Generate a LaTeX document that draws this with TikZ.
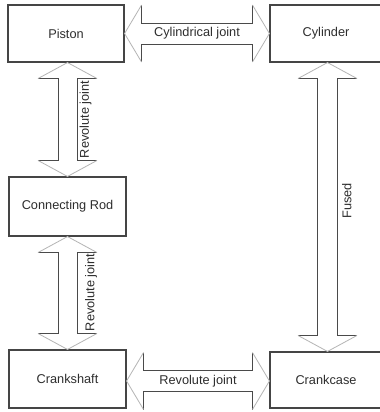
\documentclass[tikz,border=0pt]{standalone}
\usepackage{fontspec}
\setmainfont{Liberation Sans}
\usetikzlibrary{calc}
\definecolor{boxline}{HTML}{454545}
\definecolor{shaftline}{HTML}{4A4A4A}
\definecolor{headline}{HTML}{B5B5B5}
\definecolor{txt}{HTML}{2E2E2E}
\def\arrHL{16bp}
\def\arrHH{28.5bp}
\def\arrSH{10.5bp}
\newcommand{\hdblarrow}[2]{%
  \draw[shaftstyle] let \p1=(#1), \p2=(#2) in
    (\x1+\arrHL,\y1+\arrHH) -- (\x1+\arrHL,\y1+\arrSH) -- (\x2-\arrHL,\y1+\arrSH) -- (\x2-\arrHL,\y1+\arrHH)
    (\x1+\arrHL,\y1-\arrHH) -- (\x1+\arrHL,\y1-\arrSH) -- (\x2-\arrHL,\y1-\arrSH) -- (\x2-\arrHL,\y1-\arrHH);
  \draw[headstyle] let \p1=(#1), \p2=(#2) in
    (\x1+\arrHL,\y1+\arrHH) -- (\x1,\y1) -- (\x1+\arrHL,\y1-\arrHH)
    (\x2-\arrHL,\y1+\arrHH) -- (\x2,\y1) -- (\x2-\arrHL,\y1-\arrHH);}
\newcommand{\vdblarrow}[2]{%
  \draw[shaftstyle] let \p1=(#1), \p2=(#2) in
    (\x1-\arrHH,\y1-\arrHL) -- (\x1-\arrSH,\y1-\arrHL) -- (\x1-\arrSH,\y2+\arrHL) -- (\x1-\arrHH,\y2+\arrHL)
    (\x1+\arrHH,\y1-\arrHL) -- (\x1+\arrSH,\y1-\arrHL) -- (\x1+\arrSH,\y2+\arrHL) -- (\x1+\arrHH,\y2+\arrHL);
  \draw[headstyle] let \p1=(#1), \p2=(#2) in
    (\x1-\arrHH,\y1-\arrHL) -- (\x1,\y1) -- (\x1+\arrHH,\y1-\arrHL)
    (\x1-\arrHH,\y2+\arrHL) -- (\x1,\y2) -- (\x1+\arrHH,\y2+\arrHL);}
\begin{document}
\begin{tikzpicture}[x=1bp,y=-1bp,
  box/.style={draw=boxline, line width=1.1bp, inner sep=0pt, text=txt,
    font=\fontsize{12.8}{15}\selectfont},
  lbl/.style={inner sep=0pt, text=txt, font=\fontsize{12.8}{15}\selectfont},
  vlbl/.style={lbl, rotate=90, anchor=north},
  shaftstyle/.style={draw=shaftline, line width=0.9bp},
  headstyle/.style={draw=headline, line width=0.8bp}]
\useasboundingbox (0,0) rectangle (380,412);
\fill[white] (0,0) rectangle (380,412);
% boxes
\node[box, minimum width=116bp, minimum height=57bp] (piston) at (66,33.5) {Piston};
\node[box, minimum width=112bp, minimum height=57bp] (cylinder) at (326,33.5) {Cylinder};
\node[box, minimum width=117bp, minimum height=59bp] (connrod) at (67.5,206.5) {Connecting Rod};
\node[box, minimum width=117bp, minimum height=58bp] (crankshaft) at (67.5,379) {Crankshaft};
\node[box, minimum width=112bp, minimum height=56bp] (crankcase) at (326,380) {Crankcase};
% connector end points
\coordinate (t1) at (piston.east);
\coordinate (t2) at (t1 -| cylinder.west);
\coordinate (b1) at ([yshift=-2bp]crankshaft.east);
\coordinate (b2) at (b1 -| crankcase.west);
\coordinate (l1) at (piston.south -| connrod.north);
\coordinate (l2) at (connrod.north);
\coordinate (l3) at (connrod.south);
\coordinate (l4) at (crankshaft.north);
\coordinate (r1) at ([xshift=1.5bp]cylinder.south);
\coordinate (r2) at (r1 |- crankcase.north);
% arrows
{\def\arrHL{17bp}\hdblarrow{t1}{t2}}
{\def\arrHL{17bp}\hdblarrow{b1}{b2}}
{\def\arrHH{29.5bp}\def\arrSH{9.5bp}\vdblarrow{l1}{l2}}
{\def\arrHH{29.5bp}\def\arrSH{9.5bp}\vdblarrow{l3}{l4}}
{\def\arrHH{29.5bp}\def\arrSH{10bp}\vdblarrow{r1}{r2}}
% labels
\node[lbl] (cyljoint) at ($(t1)!0.5!(t2)$) {Cylindrical joint};
\node[lbl] (revjointb) at ($(b1)!0.5!(b2)$) {Revolute joint};
\node[vlbl] (revjoint1) at (79.5,119.5) {Revolute joint};
\node[vlbl] (revjoint2) at (85,292.5) {Revolute joint};
\node[vlbl] (fused) at (342,201) {Fused};
\end{tikzpicture}
\end{document}
